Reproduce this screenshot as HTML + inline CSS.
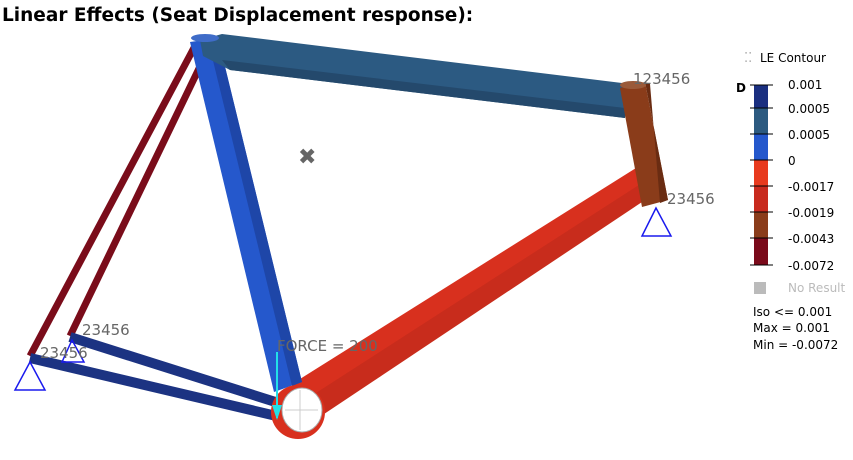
<!DOCTYPE html>
<html><head><style>
body{margin:0;width:853px;height:456px;background:#fff;overflow:hidden;font-family:"DejaVu Sans",sans-serif}
</style></head><body>
<svg width="853" height="456" viewBox="0 0 853 456" xmlns="http://www.w3.org/2000/svg" font-family="DejaVu Sans, Liberation Sans, sans-serif">
<text x="2" y="21" font-size="18.5" font-weight="bold" fill="#000">Linear Effects (Seat Displacement response):</text>
<!-- seat stays -->
<line x1="196" y1="44" x2="30" y2="356" stroke="#7a0c1a" stroke-width="7"/>
<line x1="205" y1="56" x2="70" y2="336" stroke="#7a0c1a" stroke-width="7"/>
<!-- chain stays -->
<line x1="30" y1="358" x2="285" y2="418" stroke="#1c3382" stroke-width="10"/>
<line x1="70" y1="337" x2="285" y2="405" stroke="#1c3382" stroke-width="10"/>
<!-- down tube -->
<polygon points="292,384 636,168 648,198 312,422" fill="#d8301e"/>
<polygon points="302,402 642,183 648,198 312,422" fill="#b8281a" opacity="0.5"/>
<!-- seat tube -->
<polygon points="190,42 218,38 302,382 274,392" fill="#2558cc"/>
<polygon points="208,40 218,38 302,382 292,386" fill="#1e46a8"/>
<!-- top tube -->
<polygon points="200,40 222,34 622,83 630,90 625,118 230,70 203,56" fill="#2c5a82"/>
<polygon points="222,60 625,108 625,118 230,70" fill="#24496c"/>
<ellipse cx="205" cy="38" rx="14" ry="4" fill="#3f6cc8"/>
<!-- head tube -->
<polygon points="620,88 645,82 668,200 642,207" fill="#8a3c1a"/>
<polygon points="650,84 645,82 668,200 660,203" fill="#6a2c12"/>
<ellipse cx="633" cy="85" rx="13" ry="4" fill="#9a5a3a"/>
<!-- BB -->
<circle cx="298" cy="412" r="27" fill="#d8301e"/>
<ellipse cx="302" cy="410" rx="20" ry="22" fill="#fff" stroke="#aaa"/>
<line x1="285" y1="410" x2="318" y2="410" stroke="#ccc"/>
<line x1="300" y1="390" x2="300" y2="430" stroke="#ccc"/>
<!-- supports -->
<polygon points="30,362 15,390 45,390" fill="none" stroke="#1a1aee" stroke-width="1.5"/>
<polygon points="72,340 62,362 84,362" fill="none" stroke="#1a1aee" stroke-width="1.5"/>
<polygon points="656,208 642,236 671,236" fill="none" stroke="#1a1aee" stroke-width="1.5"/>
<!-- force arrow -->
<line x1="277" y1="352" x2="277" y2="418" stroke="#22e0e8" stroke-width="2"/>
<polygon points="272,405 282,405 277,420" fill="#22e0e8"/>
<!-- X -->
<text x="298" y="164" font-size="22" font-weight="bold" fill="#666">✖</text>
<g fill="#666" font-size="15">
<text x="633" y="84">123456</text>
<text x="667" y="204">23456</text>
<text x="82" y="335">23456</text>
<text x="40" y="358">23456</text>
<text x="277" y="351">FORCE = 200</text>
</g>
<!-- legend -->
<text x="744" y="62" font-size="13" fill="#aaa">⁚⁚</text>
<text x="760" y="62" font-size="12" fill="#000">LE Contour</text>
<text x="736" y="92" font-size="12" font-weight="bold" fill="#000">D</text>
<rect x="754" y="85" width="14" height="23" fill="#1a2f80"/>
<rect x="754" y="108" width="14" height="26" fill="#2c5a80"/>
<rect x="754" y="134" width="14" height="26" fill="#2558cc"/>
<rect x="754" y="160" width="14" height="26" fill="#e83a1e"/>
<rect x="754" y="186" width="14" height="26" fill="#c82a1e"/>
<rect x="754" y="212" width="14" height="26" fill="#8a3c1a"/>
<rect x="754" y="238" width="14" height="27" fill="#7a0a1a"/>
<g stroke="#000" stroke-width="1">
<line x1="750" y1="85" x2="773" y2="85"/><line x1="750" y1="108" x2="773" y2="108"/>
<line x1="750" y1="134" x2="773" y2="134"/><line x1="750" y1="160" x2="773" y2="160"/>
<line x1="750" y1="186" x2="773" y2="186"/><line x1="750" y1="212" x2="773" y2="212"/>
<line x1="750" y1="238" x2="773" y2="238"/><line x1="750" y1="265" x2="773" y2="265"/>
</g>
<g font-size="12" fill="#000">
<text x="788" y="89">0.001</text><text x="788" y="113">0.0005</text>
<text x="788" y="139">0.0005</text><text x="788" y="165">0</text>
<text x="788" y="191">-0.0017</text><text x="788" y="217">-0.0019</text>
<text x="788" y="243">-0.0043</text><text x="788" y="270">-0.0072</text>
</g>
<rect x="754" y="282" width="12" height="12" fill="#bbb"/>
<text x="788" y="292" font-size="12" fill="#bbb">No Result</text>
<g font-size="12" fill="#000">
<text x="753" y="316">Iso &lt;= 0.001</text>
<text x="753" y="332">Max =  0.001</text>
<text x="753" y="349">Min = -0.0072</text>
</g>
</svg>
</body></html>
